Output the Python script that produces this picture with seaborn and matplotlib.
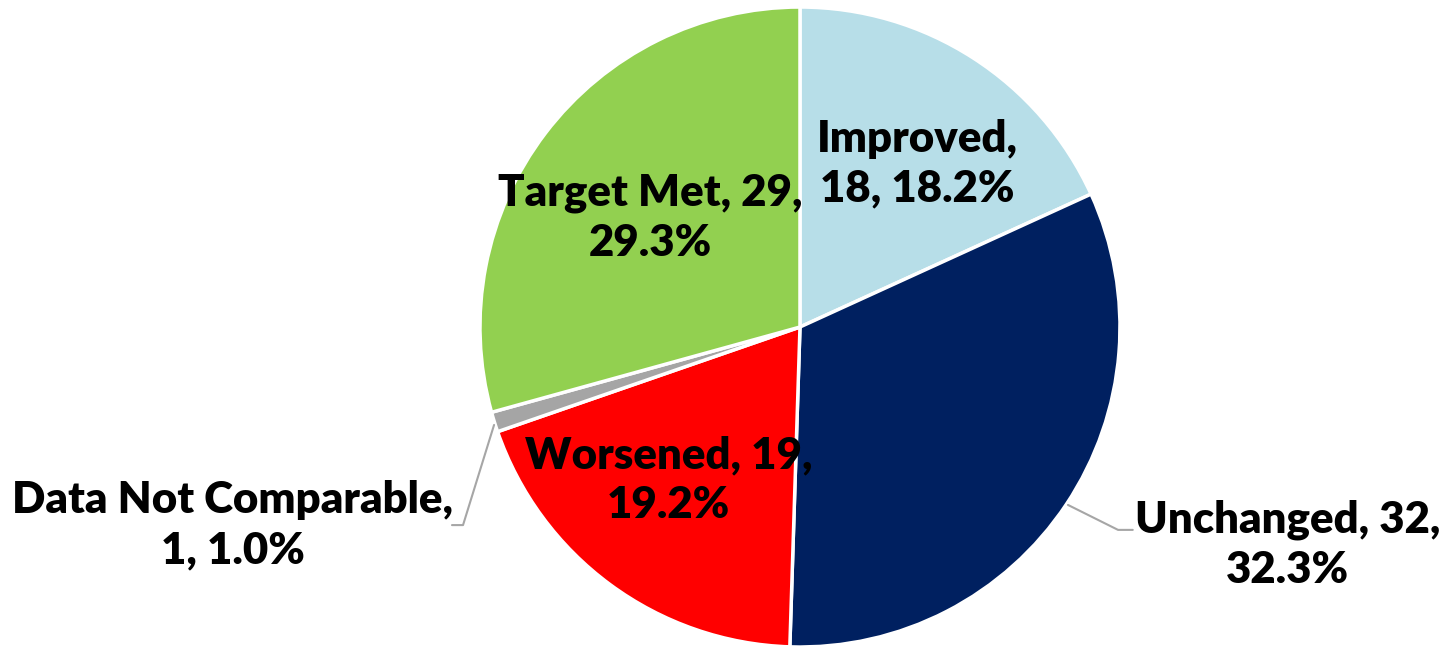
import matplotlib
matplotlib.use("Agg")
import matplotlib.pyplot as plt
import seaborn as sns

categories = ["Improved", "Unchanged", "Worsened", "Data Not Comparable", "Target Met"]
counts = [18, 32, 19, 1, 29]
colors = ["#B7DEE8", "#002060", "#FF0000", "#A5A5A5", "#92D050"]

# label anchor positions (pie radius = 1)
label_pos = [(0.366, 0.51), (1.525, -0.68), (-0.41, -0.478), (-1.772, -0.62), (-0.469, 0.341)]
label_text = [
    "Improved,\n18, 18.2%",
    "Unchanged, 32,\n32.3%",
    "Worsened, 19,\n19.2%",
    "Data Not Comparable,\n1, 1.0%",
    "Target Met, 29,\n29.3%",
]

sns.set_theme(style="white")
plt.rcParams['font.family'] = ['Lato', 'DejaVu Sans']

fig = plt.figure(figsize=(14.47, 6.47), dpi=100)
ax = fig.add_axes([0, 0, 1, 1])
ax.pie(counts, colors=colors, startangle=90, counterclock=False, radius=1,
       wedgeprops=dict(edgecolor="white", linewidth=2.5))

for (x, y), t in zip(label_pos, label_text):
    ax.text(x, y, t, ha="center", va="center", fontsize=31.5, fontweight="heavy",
            color="black", linespacing=1.3)

# leader lines
ax.plot([0.8375, 0.994, 1.04], [-0.556, -0.634, -0.634], color="#A6A6A6", lw=1.5)
ax.plot([-0.956, -1.053, -1.0875], [-0.306, -0.619, -0.619], color="#A6A6A6", lw=1.5)

ax.set_xlim(-2.5, 2.022)
ax.set_ylim(-1.0, 1.022)
ax.set_aspect("auto")
ax.axis("off")

fig.savefig("out.png", dpi=100)
plt.close(fig)
